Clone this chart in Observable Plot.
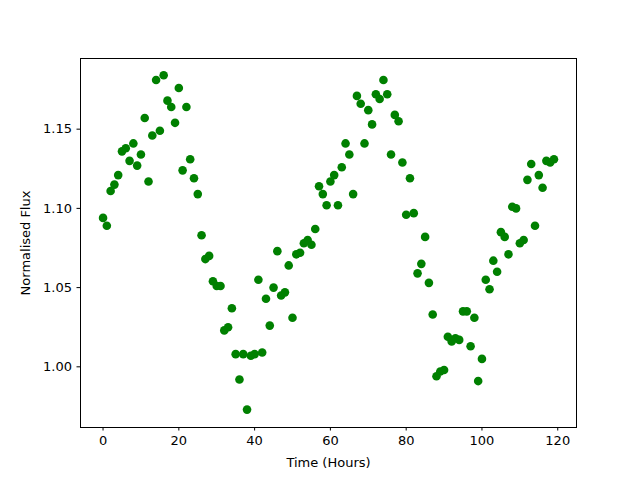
<!DOCTYPE html>
<html>
<head>
<meta charset="utf-8">
<script src="https://cdn.jsdelivr.net/npm/d3@7"></script>
<script src="https://cdn.jsdelivr.net/npm/@observablehq/plot@0.6"></script>
<style>
  html, body { margin: 0; padding: 0; background: #fff; }
  svg { display: block; }
</style>
</head>
<body>
<div id="chart"></div>
<script>
const hours = d3.range(0, 120);
const flux = [
  1.094, 1.089, 1.111, 1.115, 1.121, 1.136, 1.138, 1.130, 1.141, 1.127,
  1.134, 1.157, 1.117, 1.146, 1.181, 1.149, 1.184, 1.168, 1.164, 1.154,
  1.176, 1.124, 1.164, 1.131, 1.119, 1.109, 1.083, 1.068, 1.070, 1.054,
  1.051, 1.051, 1.023, 1.025, 1.037, 1.008, 0.992, 1.008, 0.973, 1.007,
  1.008, 1.055, 1.009, 1.043, 1.026, 1.050, 1.073, 1.045, 1.047, 1.064,
  1.031, 1.071, 1.072, 1.078, 1.080, 1.077, 1.087, 1.114, 1.109, 1.102,
  1.117, 1.121, 1.102, 1.126, 1.141, 1.134, 1.109, 1.171, 1.166, 1.141,
  1.162, 1.153, 1.172, 1.169, 1.181, 1.172, 1.134, 1.159, 1.155, 1.129,
  1.096, 1.119, 1.097, 1.059, 1.065, 1.082, 1.053, 1.033, 0.994, 0.997,
  0.998, 1.019, 1.016, 1.018, 1.017, 1.035, 1.035, 1.013, 1.031, 0.991,
  1.005, 1.055, 1.049, 1.067, 1.060, 1.085, 1.082, 1.071, 1.101, 1.100,
  1.078, 1.080, 1.118, 1.128, 1.089, 1.121, 1.113, 1.130, 1.129, 1.131
];
const xTicks = [0, 20, 40, 60, 80, 100, 120];
const yTicks = [1.00, 1.05, 1.10, 1.15];
const xLabel = "Time (Hours)";
const yLabel = "Normalised Flux";

const data = hours.map((h, i) => ({hour: h, flux: flux[i]}));

const chart = Plot.plot({
  width: 640,
  height: 480,
  marginLeft: 80,
  marginRight: 64,
  marginTop: 58,
  marginBottom: 53,
  style: {fontFamily: "DejaVu Sans", fontSize: "13px", background: "white", color: "black"},
  x: {domain: [-5.95, 124.95]},
  y: {domain: [0.9617, 1.1946]},
  marks: [
    Plot.dot(data, {x: "hour", y: "flux", r: 4.3, fill: "#008000", stroke: "none"}),
    Plot.frame({stroke: "black", strokeWidth: 1}),
    Plot.axisX({ticks: xTicks, tickSize: 3.5, tickPadding: 5, tickFormat: d3.format("d"),
      fontSize: 13, label: xLabel, labelAnchor: "center", labelArrow: "none", labelOffset: 39}),
    Plot.axisY({ticks: yTicks, tickSize: 3.5, tickPadding: 5, tickFormat: d3.format(".2f"),
      fontSize: 13, label: yLabel, labelAnchor: "center", labelArrow: "none", labelOffset: 60})
  ]
});
document.getElementById("chart").appendChild(chart);
</script>
</body>
</html>
